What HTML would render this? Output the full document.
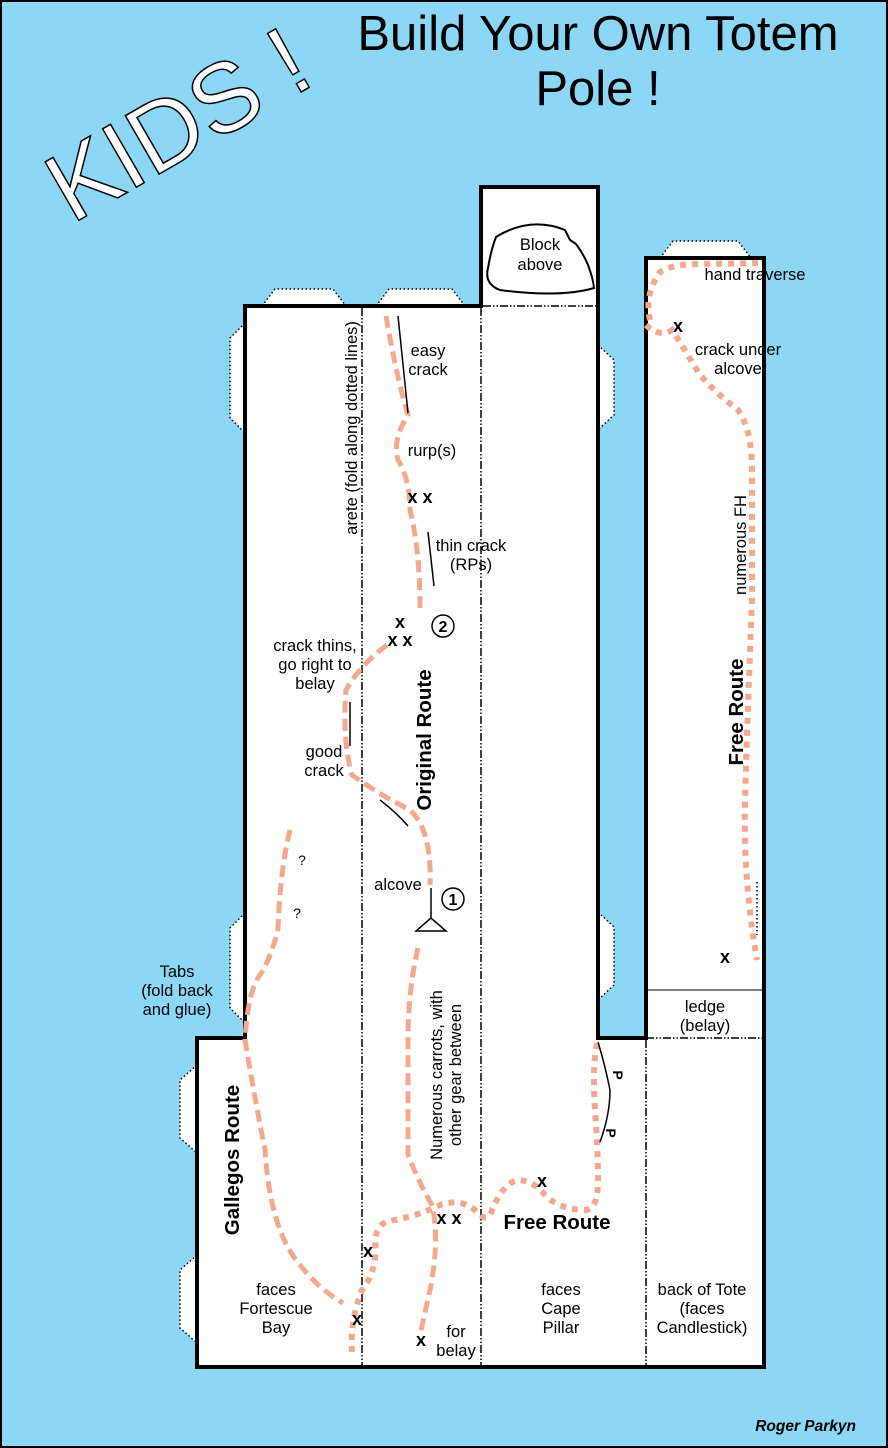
<!DOCTYPE html>
<html><head><meta charset="utf-8"><style>
html,body{margin:0;padding:0;background:#8dd7f6}
svg{display:block}
text{font-family:"Liberation Sans",Arial,sans-serif;fill:#000}
</style></head><body>
<svg width="888" height="1448" viewBox="0 0 888 1448" xmlns="http://www.w3.org/2000/svg">
<rect x="1" y="1" width="886" height="1446" fill="#8dd7f6" stroke="#000" stroke-width="2"/>
<g fill="#fff" stroke="#000" stroke-width="1.5" stroke-dasharray="1.5,2.5">
<path d="M262,306 L275,289 L333,289 L346,306 Z"/>
<path d="M376,306 L389,289 L452,289 L465,306 Z"/>
<path d="M660,258 L673,241 L738,241 L751,258 Z"/>
<path d="M245,323 L230,338 L230,418 L245,433 Z"/>
<path d="M245,913 L230,928 L230,1008 L245,1023 Z"/>
<path d="M598,345 L614,360 L614,415 L598,430 Z"/>
<path d="M598,912 L614,927 L614,985 L598,1000 Z"/>
<path d="M197,1065 L180,1080 L180,1138 L197,1153 Z"/>
<path d="M197,1255 L180,1270 L180,1328 L197,1343 Z"/>
</g>
<path d="M197,1038 L245,1038 L245,306 L481,306 L481,187 L598,187 L598,1038 L646,1038 L646,258 L764,258 L764,1367 L197,1367 Z" fill="#fff" stroke="#000" stroke-width="4"/>
<g stroke="#000" stroke-width="1.5" stroke-dasharray="8,2,1.5,2,1.5,2" fill="none">
<line x1="362" y1="308" x2="362" y2="1365"/>
<line x1="481" y1="308" x2="481" y2="1365"/>
<line x1="646" y1="1040" x2="646" y2="1365"/>
<line x1="483" y1="306" x2="596" y2="306"/>
<line x1="646" y1="1038" x2="762" y2="1038"/>
</g>
<line x1="648" y1="990" x2="762" y2="990" stroke="#000" stroke-width="1"/>
<path d="M496,237 Q530,216 565,230 L570,240 L576,244 Q584,255 588,265 Q593,278 594,288 Q560,298 500,290 Q484,284 488,268 Q491,250 496,237 Z" fill="none" stroke="#000" stroke-width="2"/>
<g fill="none" stroke="#f4a98c" stroke-width="5" stroke-dasharray="12,6">
<path d="M386,316 Q395,370 408,415 Q392,440 398,460 Q410,480 410,510 Q420,550 420,608"/>
<path d="M387,645 Q360,665 346,690 Q342,740 352,775 Q380,795 410,810 Q432,830 430,885"/>
<path d="M418,948 Q408,990 408,1040 L408,1155 Q420,1185 432,1205 Q440,1240 430,1290 L420,1335"/>
<path d="M290,830 Q280,870 278,930 Q270,960 260,975 Q248,990 245,1040 Q255,1100 265,1150 Q270,1230 300,1265 Q320,1290 343,1303"/>
</g>
<g fill="none" stroke="#f4a98c" stroke-width="6" stroke-dasharray="6,6">
<path d="M352,1352 Q350,1320 362,1290 Q378,1270 375,1240 Q378,1220 395,1220 Q420,1215 440,1205 Q460,1198 475,1210 Q488,1225 492,1210 Q505,1180 520,1180 Q535,1182 545,1195 Q560,1210 585,1210 Q598,1210 598,1180 Q598,1150 595,1110 Q592,1060 598,1040"/>
<path d="M650,320 Q644,295 660,272 Q672,264 700,264 L762,263"/>
<path d="M646,325 Q660,338 672,330 Q685,350 700,375 Q718,395 738,410 Q752,430 752,470 L752,600 Q748,700 745,800 Q743,880 757,960"/>
</g>
<path d="M757,882 L757,935" stroke="#000" stroke-width="1.5" stroke-dasharray="1.5,2.5"/>
<g fill="none" stroke="#000" stroke-width="1.5">
<line x1="398" y1="316" x2="408" y2="413"/>
<line x1="428" y1="532" x2="434" y2="586"/>
<line x1="350" y1="702" x2="350" y2="746"/>
<path d="M380,800 Q396,812 408,826"/>
<line x1="431" y1="888" x2="431" y2="920"/>
<path d="M431,918 L416,931 L446,931 Z" fill="#fff"/>
<path d="M598,1042 Q605,1065 610,1090 Q610,1115 600,1142"/>
<circle cx="453" cy="899" r="11" fill="#fff"/>
<circle cx="443" cy="626" r="11" fill="#fff"/>
</g>
<text x="453" y="905" font-size="16" font-weight="bold" text-anchor="middle">1</text>
<text x="443" y="632" font-size="16" font-weight="bold" text-anchor="middle">2</text>
<g font-size="18" font-weight="bold" text-anchor="middle">
<text x="420" y="503">x x</text>
<text x="400" y="628">x</text>
<text x="400" y="646">x x</text>
<text x="678" y="332">x</text>
<text x="725" y="963">x</text>
<text x="542" y="1187">x</text>
<text x="449" y="1224">x x</text>
<text x="368" y="1257">x</text>
<text x="357" y="1325">x</text>
<text x="421" y="1346">x</text>
</g>
<g font-size="14" font-weight="bold" text-anchor="middle">
<text x="613" y="1075" transform="rotate(90 613 1075)">P</text>
<text x="606" y="1133" transform="rotate(90 606 1133)">P</text>
</g>
<text x="598" y="50" font-size="49" text-anchor="middle">Build Your Own Totem</text>
<text x="598" y="105" font-size="49" text-anchor="middle">Pole !</text>
<text x="178" y="158" font-size="98" text-anchor="middle" stroke="#000" stroke-width="1.5" transform="rotate(-30 178 125)" style="fill:#fff">KIDS !</text>
<g font-size="16.5" text-anchor="middle">
<text x="540" y="250">Block</text><text x="540" y="270">above</text>
<text x="755" y="280">hand traverse</text>
<text x="738" y="355">crack under</text><text x="738" y="374">alcove</text>
<text x="428" y="356">easy</text><text x="428" y="375">crack</text>
<text x="432" y="456">rurp(s)</text>
<text x="471" y="551">thin crack</text><text x="471" y="570">(RPs)</text>
<text x="315" y="651">crack thins,</text><text x="315" y="670">go right to</text><text x="315" y="689">belay</text>
<text x="324" y="757">good</text><text x="324" y="776">crack</text>
<text x="302" y="865" font-size="14">?</text>
<text x="297" y="918" font-size="14">?</text>
<text x="398" y="890">alcove</text>
<text x="177" y="977">Tabs</text><text x="177" y="996">(fold back</text><text x="177" y="1015">and glue)</text>
<text x="705" y="1012">ledge</text><text x="705" y="1031">(belay)</text>
<text x="276" y="1295">faces</text><text x="276" y="1314">Fortescue</text><text x="276" y="1333">Bay</text>
<text x="456" y="1337">for</text><text x="456" y="1356">belay</text>
<text x="561" y="1295">faces</text><text x="561" y="1314">Cape</text><text x="561" y="1333">Pillar</text>
<text x="702" y="1295">back of Tote</text><text x="702" y="1314">(faces</text><text x="702" y="1333">Candlestick)</text>
<text x="357" y="428" transform="rotate(-90 357 428)">arete (fold along dotted lines)</text>
<text x="746" y="545" transform="rotate(-90 746 545)">numerous FH</text>
<text x="442" y="1075" transform="rotate(-90 442 1075)">Numerous carrots, with</text>
<text x="461" y="1075" transform="rotate(-90 461 1075)">other gear between</text>
</g>
<g font-size="20.5" font-weight="bold" text-anchor="middle">
<text x="431" y="740" transform="rotate(-90 431 740)">Original Route</text>
<text x="743" y="712" transform="rotate(-90 743 712)">Free Route</text>
<text x="239" y="1160" transform="rotate(-90 239 1160)">Gallegos Route</text>
<text x="557" y="1229">Free Route</text>
</g>
<text x="856" y="1431" font-size="15.5" font-weight="bold" font-style="italic" text-anchor="end">Roger Parkyn</text>
</svg>
</body></html>
